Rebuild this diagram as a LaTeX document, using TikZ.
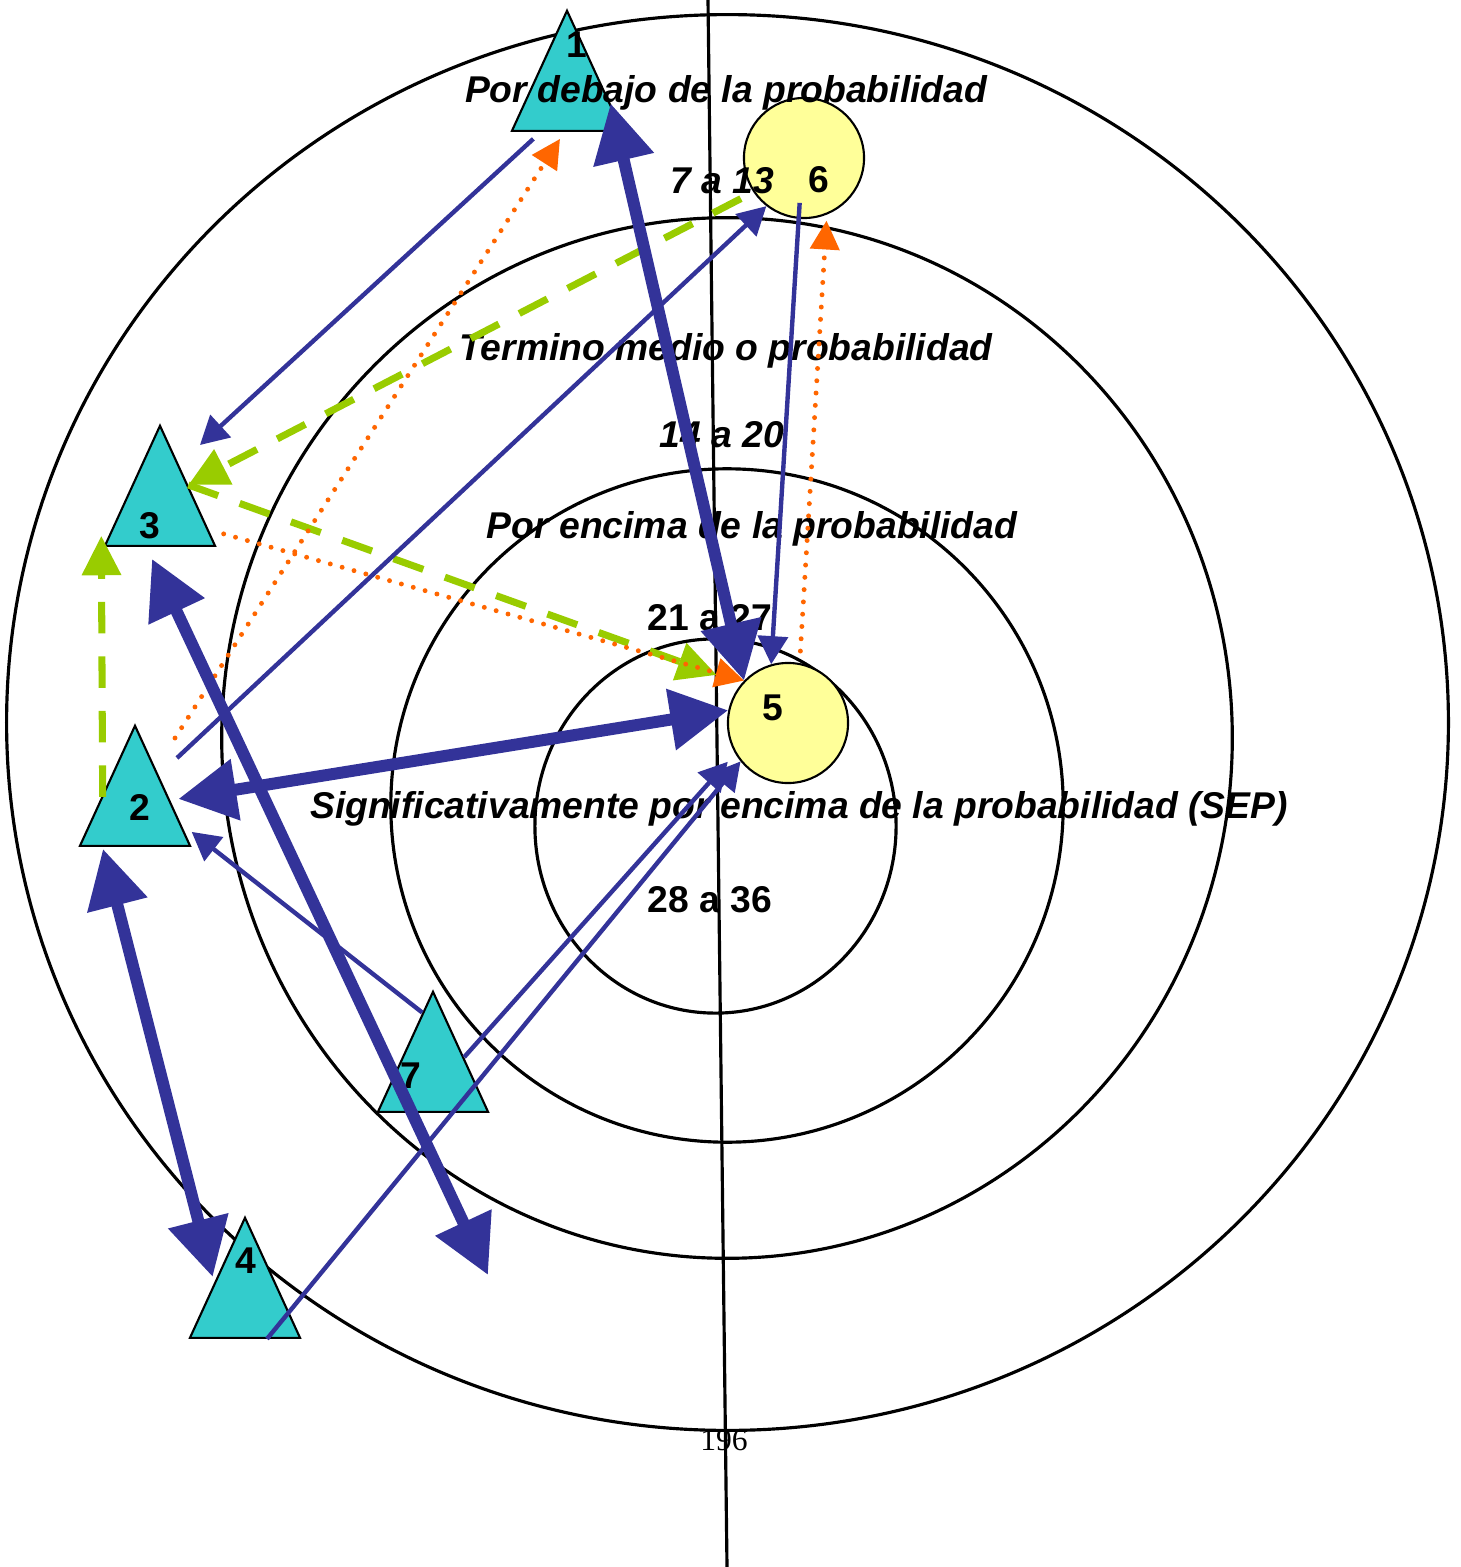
\documentclass[tikz,border=0pt]{standalone}
\usepackage{fontspec}
\usetikzlibrary{shapes.geometric,arrows.meta,calc}
\newfontfamily\arialfont{Liberation Sans}
\newfontfamily\timesfont{Liberation Serif}
\definecolor{tealfill}{HTML}{33CCCC}
\definecolor{yellowfill}{HTML}{FFFF99}
\definecolor{arrowblue}{HTML}{333399}
\definecolor{dotorange}{HTML}{FF6600}
\definecolor{dashgreen}{HTML}{99CC00}

\begin{document}
\begin{tikzpicture}[x=0.01cm,y=-0.01cm,
  ring/.style={draw=black,line width=0.9pt},
  tri/.style={isosceles triangle,shape border rotate=90,isosceles triangle stretches,
    minimum width=1.1cm,minimum height=1.2cm,inner sep=0pt,
    draw=black,line width=0.6pt,fill=tealfill,anchor=apex},
  blob/.style={circle,draw=black,line width=0.6pt,fill=yellowfill,minimum size=1.2cm,inner sep=0pt},
  num/.style={font=\arialfont\fontsize{10.6}{12}\selectfont\bfseries,anchor=base,inner sep=0pt},
  band/.style={font=\arialfont\fontsize{10.6}{12}\selectfont\bfseries\itshape,anchor=base,inner sep=0pt},
  scorelbl/.style={font=\arialfont\fontsize{10.6}{12}\selectfont\bfseries,anchor=base,inner sep=0pt},
  pagenum/.style={font=\timesfont\fontsize{9}{11}\selectfont,anchor=base,inner sep=0pt},
  link/.style={draw=arrowblue,line width=1.25pt,-{Triangle[length=8pt,width=8.5pt]}},
  biglink/.style={draw=arrowblue,line width=3.4pt,
    {Triangle[length=16.5pt,width=16.8pt]}-{Triangle[length=16.5pt,width=16.8pt]}},
  dashlink/.style={draw=dashgreen,line width=2pt,dash pattern=on 9pt off 6.5pt,
    -{Triangle[length=11.2pt,width=10.8pt]}},
  dotlink/.style={draw=dotorange,line width=1.4pt,line cap=round,dash pattern=on 0pt off 3.5pt,
    -{Triangle[length=8.2pt,width=8.2pt]}}]

\useasboundingbox (0,0) rectangle (1460,1567);

% ------------------------------------------------------------------
% Rings and the axis
% ------------------------------------------------------------------
\draw[ring] (727.5,722.5) ellipse [x radius=7.205cm, y radius=7.075cm];
\draw[ring] (727,738) ellipse [x radius=5.05cm, y radius=5.2cm];
\draw[ring] (727,805.5) ellipse [x radius=3.36cm, y radius=3.365cm];
\draw[ring] (715.5,826) ellipse [x radius=1.805cm, y radius=1.87cm];

\coordinate (axtop) at (708,0);
\coordinate (axbot) at (727,1567);
\draw[ring] (axtop) -- (axbot);

% ------------------------------------------------------------------
% Triangles (placed by their apex) and circles
% ------------------------------------------------------------------
\node[tri] (t1) at (567,8) {};
\node[tri] (t3) at (160,423) {};
\node[tri] (t2) at (135,723) {};
\node[tri] (t7) at (433,989) {};
\node[tri] (t4) at (245,1215) {};

\node[blob] (c6) at (804,158) {};
\node[blob] (c5) at (788,723) {};

% ------------------------------------------------------------------
% Band labels
% ------------------------------------------------------------------
\node[band] (bandA) at (726,103) {Por debajo de la probabilidad};
\node[band] (rangeA) at (722,194) {7 a 13};
\node[band] (bandB) at (726,361) {Termino medio o probabilidad};
\node[band] (rangeB) at (722,448) {14 a 20};
\node[band] (bandC) at (752,538) {Por encima de la probabilidad};
\node[scorelbl] (rangeC) at (710,630) {21 a 27};
\node[band] (bandD) at (799,818) {Significativamente por encima de la probabilidad (SEP)};
\node[scorelbl] (rangeD) at (710,912) {28 a 36};
\node[pagenum] (page) at (724,1450) {196};

% ------------------------------------------------------------------
% Numbers
% ------------------------------------------------------------------
\node[num] (n1) at (577,58) {1};
\node[num] (n3) at (150,538) {3};
\node[num] (n2) at (140,820) {2};
\node[num] (n4) at (246,1273) {4};
\node[num] (n7) at (411,1088) {7};
\node[num] (n6) at (819,193) {6};
\node[num] (n5) at (773,720) {5};

\coordinate (freeend) at (488,1275);

% ------------------------------------------------------------------
% Green dashed links
% ------------------------------------------------------------------
\draw[dashlink, shorten <=0.14cm] (c6.214) -- (t3.right side);
\draw[dashlink, shorten >=0.26cm] (t3.right side) -- (c5.140);
\draw[dashlink] ([shift={(-4,12)}]t2.left side) -- ([shift={(-2,-11)}]t3.left corner);

% ------------------------------------------------------------------
% Orange dotted links
% ------------------------------------------------------------------
\draw[dotlink] ([shift={(40,15)}]t2.apex) -- ([shift={(-7,7)}]t1.lower side);
\draw[dotlink] ([shift={(7,-13)}]t3.right corner) -- (c5.136);
\draw[dotlink, shorten <=0.12cm, shorten >=0.06cm] (c5.79) -- (c6.292);

% ------------------------------------------------------------------
% Thin blue links
% ------------------------------------------------------------------
\draw[link] ([shift={(23,7)}]t1.left corner) -- ([shift={(40,22)}]t3.apex);
\draw[link] ([shift={(42,35)}]t2.apex) -- (c6.232);
\draw[link, shorten <=-0.16cm] (c6.265) -- (c5.106);
\draw[link] ($(t7.apex)!0.19!(t7.left corner)$) -- ([shift={(0,-15)}]t2.right corner);
\draw[link, shorten >=0.11cm] ($(t7.apex)!0.55!(t7.right corner)$) -- (c5.210);
\draw[link] ([shift={(22,0)}]t4.lower side) -- (c5.219);

% ------------------------------------------------------------------
% Thick blue two-way links
% ------------------------------------------------------------------
\draw[biglink] ($(t1.apex)!0.77!(t1.right corner)$) -- (c5.136);
\draw[biglink] ([shift={(15,14)}]t2.right side) -- (c5.168);
\draw[biglink] ([shift={(-8,12)}]t3.lower side) -- (freeend);
\draw[biglink] ([shift={(-32,2)}]t2.lower side) -- ([shift={(-4,0)}]t4.left side);

\end{tikzpicture}
\end{document}
